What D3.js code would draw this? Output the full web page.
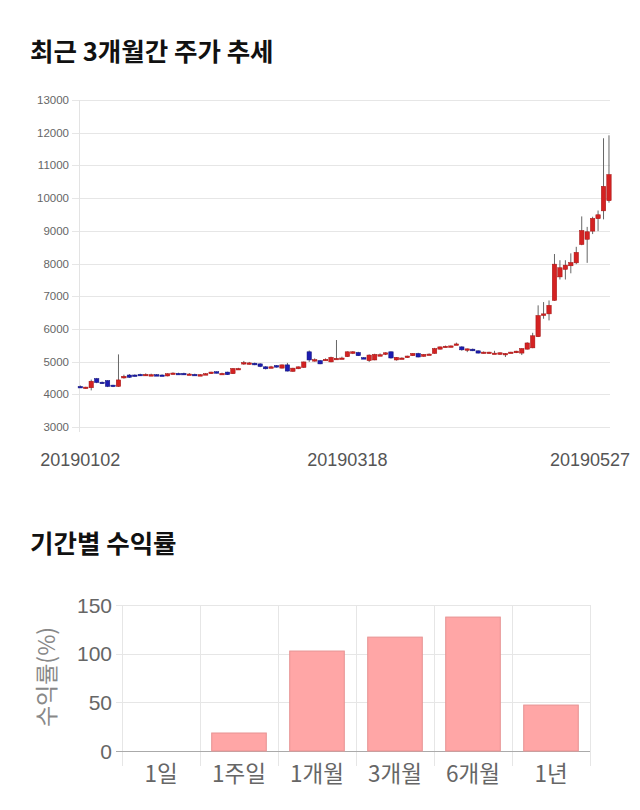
<!DOCTYPE html>
<html><head><meta charset="utf-8">
<script src="https://cdn.jsdelivr.net/npm/d3@7"></script>
<style>
body{margin:0;background:#fff;}
svg{display:block;}
</style></head>
<body>
<svg id="c" width="640" height="810"></svg>
<script>
const dates = [
"20190102","20190103","20190104","20190107","20190108","20190109","20190110","20190111","20190114","20190115","20190116","20190117","20190118","20190121","20190122","20190123","20190124","20190125","20190128","20190129","20190130","20190131",
"20190201","20190207","20190208","20190211","20190212","20190213","20190214","20190215","20190218","20190219","20190220","20190221","20190222","20190225","20190226","20190227","20190228",
"20190304","20190305","20190306","20190307","20190308","20190311","20190312","20190313","20190314","20190315","20190318","20190319","20190320","20190321","20190322","20190325","20190326","20190327","20190328","20190329",
"20190401","20190402","20190403","20190404","20190405","20190408","20190409","20190410","20190411","20190412","20190415","20190416","20190417","20190418","20190419","20190422","20190423","20190424","20190425","20190426","20190429","20190430",
"20190502","20190503","20190507","20190508","20190509","20190510","20190513","20190514","20190515","20190516","20190517","20190520","20190521","20190522","20190523","20190524","20190527"];
const openP  = [4240,4180,4200,4480,4370,4420,4280,4240,4500,4590,4590,4610,4600,4600,4600,4590,4560,4640,4640,4640,4620,4610,4600,4620,4630,4690,4640,4680,4630,4780,4960,4930,4950,4930,4840,4830,4880,4800,4900,4700,4780,4820,5300,5040,5030,5060,4990,5090,5100,5150,5250,5280,5120,5030,5050,5200,5220,5300,5050,5100,5120,5180,5250,5160,5220,5250,5380,5460,5460,5530,5450,5360,5380,5330,5280,5280,5260,5220,5220,5280,5270,5260,5380,5420,5760,6410,6460,6870,7590,7820,7930,8020,8580,8740,8990,9370,9610,9920];
const highP  = [4270,4230,4450,4500,4390,4430,4290,5220,4600,4620,4610,4630,4640,4630,4620,4610,4640,4670,4660,4660,4650,4630,4620,4650,4690,4700,4660,4690,4800,4810,5020,4990,4970,4950,4860,4870,4890,4910,4960,4810,4850,5000,5340,5100,5050,5100,5150,5660,5150,5310,5320,5300,5140,5220,5240,5250,5280,5310,5140,5130,5180,5260,5270,5230,5250,5420,5460,5490,5490,5580,5470,5400,5400,5340,5310,5300,5330,5280,5260,5300,5330,5410,5590,5880,6720,6820,6870,8290,8100,8100,8310,8510,9440,9120,9430,9620,11830,11920];
const lowP   = [4220,4170,4120,4340,4320,4220,4220,4230,4480,4500,4540,4560,4560,4560,4570,4560,4550,4610,4610,4600,4600,4580,4580,4600,4620,4640,4620,4590,4620,4760,4900,4910,4890,4830,4760,4800,4820,4790,4700,4690,4770,4810,4990,5000,4920,5030,4980,5080,5080,5140,5230,5170,5080,4990,5040,5180,5200,5090,5030,5080,5110,5170,5130,5150,5200,5240,5370,5440,5440,5510,5330,5290,5320,5250,5250,5240,5240,5210,5140,5260,5260,5200,5370,5410,5750,6310,6260,6860,7510,7510,7700,7980,8560,8020,8900,8990,9350,9860];
const closeP = [4230,4220,4400,4360,4330,4240,4240,4440,4550,4520,4550,4570,4610,4600,4590,4560,4630,4650,4630,4610,4620,4590,4600,4630,4680,4650,4640,4600,4790,4790,4970,4960,4900,4850,4780,4840,4830,4900,4710,4800,4840,4990,5050,5060,4930,5070,5130,5100,5110,5300,5300,5180,5110,5200,5220,5210,5270,5110,5130,5110,5170,5250,5140,5220,5230,5400,5450,5470,5480,5540,5360,5390,5330,5260,5290,5290,5260,5270,5250,5290,5320,5400,5570,5790,6410,6460,6720,7980,7870,7950,8030,8340,9010,8970,9380,9490,10360,10720];
const priceTicks = [3000,4000,5000,6000,7000,8000,9000,10000,11000,12000,13000];
const dateLabels = ["20190102","20190318","20190527"];

const periods = ["1일","1주일","1개월","3개월","6개월","1년"];
const returns = [0,18.5,102.7,117,137.6,47.2];
const returnTicks = [0,50,100,150];

const svg = d3.select("#c");
const KR = "'Noto Sans CJK KR','Noto Sans',sans-serif";
const LAT = "'Liberation Sans',Arial,sans-serif";

// titles
svg.append("text").attr("x",30).attr("y",61).text("최근 3개월간 주가 추세")
  .attr("font-family",KR).attr("font-weight",700).attr("font-size",25.5).attr("fill","#111");
svg.append("text").attr("x",30).attr("y",553).text("기간별 수익률")
  .attr("font-family",KR).attr("font-weight",700).attr("font-size",25.5).attr("fill","#111");

// ---- candlestick chart ----
const cx0 = 79, cx1 = 610;
const x = d3.scaleBand().domain(dates).range([77.6, 611.7]).padding(0);
const y = d3.scaleLinear().domain([3000,13000]).range([427,100]);

const gGrid = svg.append("g");
gGrid.selectAll("line").data(priceTicks).join("line")
  .attr("x1",72).attr("x2",cx1).attr("y1",d=>Math.round(y(d))+0.5).attr("y2",d=>Math.round(y(d))+0.5)
  .attr("stroke","#e6e6e6").attr("stroke-width",1);
svg.append("line").attr("x1",cx0+0.5).attr("x2",cx0+0.5).attr("y1",100).attr("y2",432)
  .attr("stroke","#e3e3e3");
svg.append("g").selectAll("text").data(priceTicks).join("text")
  .attr("x",69).attr("y",d=>y(d)+4).attr("text-anchor","end")
  .attr("font-family",LAT).attr("font-size",11.5).attr("fill","#666").text(d=>d);

const data = dates.map((d,i)=>({d,o:openP[i],h:highP[i],l:lowP[i],c:closeP[i]}));
const bw = 4.4;
const cg = svg.append("g");
const col = d=> d.c>=d.o ? "#d42222" : "#1c1cb0";
cg.selectAll("line").data(data).join("line")
  .attr("x1",d=>x(d.d)+x.bandwidth()/2).attr("x2",d=>x(d.d)+x.bandwidth()/2)
  .attr("y1",d=>y(d.h)).attr("y2",d=>y(d.l))
  .attr("stroke","#666").attr("stroke-width",1);
cg.selectAll("rect").data(data).join("rect")
  .attr("x",d=>x(d.d)+x.bandwidth()/2-bw/2).attr("width",bw)
  .attr("y",d=>y(Math.max(d.o,d.c)))
  .attr("height",d=>Math.max(1.5, Math.abs(y(d.o)-y(d.c))))
  .attr("fill",col).attr("stroke",d=>d.c>=d.o?"#a01010":"#10107a").attr("stroke-width",0.5);

svg.append("g").selectAll("text").data(dateLabels).join("text")
  .attr("x",(d,i)=> i===dateLabels.length-1 ? 630 : x(d)+x.bandwidth()/2)
  .attr("y",466).attr("text-anchor",(d,i)=> i===dateLabels.length-1 ? "end":"middle")
  .attr("font-family",LAT).attr("font-size",18).attr("fill","#555").text(d=>d);

// ---- returns bar chart ----
const bx = d3.scaleBand().domain(periods).range([122,590]).padding(0);
const by = d3.scaleLinear().domain([0,150]).range([751,605]);

const vg = svg.append("g");
const edges = periods.map(p=>bx(p)).concat([590]);
vg.selectAll("line").data(edges).join("line")
  .attr("x1",d=>Math.round(d)+0.5).attr("x2",d=>Math.round(d)+0.5)
  .attr("y1",605).attr("y2",766).attr("stroke","#e6e6e6");
svg.append("g").selectAll("line").data(returnTicks).join("line")
  .attr("x1",116).attr("x2",590)
  .attr("y1",d=>Math.round(by(d))+0.5).attr("y2",d=>Math.round(by(d))+0.5)
  .attr("stroke",d=>d===0?"#aaa":"#e6e6e6");
svg.append("g").selectAll("text").data(returnTicks).join("text")
  .attr("x",112).attr("y",d=>by(d)+7.5).attr("text-anchor","end")
  .attr("font-family",LAT).attr("font-size",21).attr("fill","#666").text(d=>d);

const barW = bx.bandwidth()*0.7;
svg.append("g").selectAll("rect").data(periods).join("rect")
  .attr("x",p=>bx(p)+bx.bandwidth()/2-barW/2).attr("width",barW)
  .attr("y",(p,i)=>by(returns[i])).attr("height",(p,i)=>by(0)-by(returns[i]))
  .attr("fill",(p,i)=>returns[i]>0?"#ffa6a6":"none")
  .attr("stroke",(p,i)=>returns[i]>0?"#e79393":"none").attr("stroke-width",1);

svg.append("g").selectAll("text").data(periods).join("text")
  .attr("x",p=>bx(p)+bx.bandwidth()/2).attr("y",782).attr("text-anchor","middle")
  .attr("font-family",KR).attr("font-size",22.5).attr("fill","#666").text(p=>p);

svg.append("text").attr("transform","translate(55,677) rotate(-90)")
  .attr("text-anchor","middle").attr("font-family",KR).attr("font-size",23)
  .attr("fill","#888").text("수익률(%)");
</script>
</body></html>
